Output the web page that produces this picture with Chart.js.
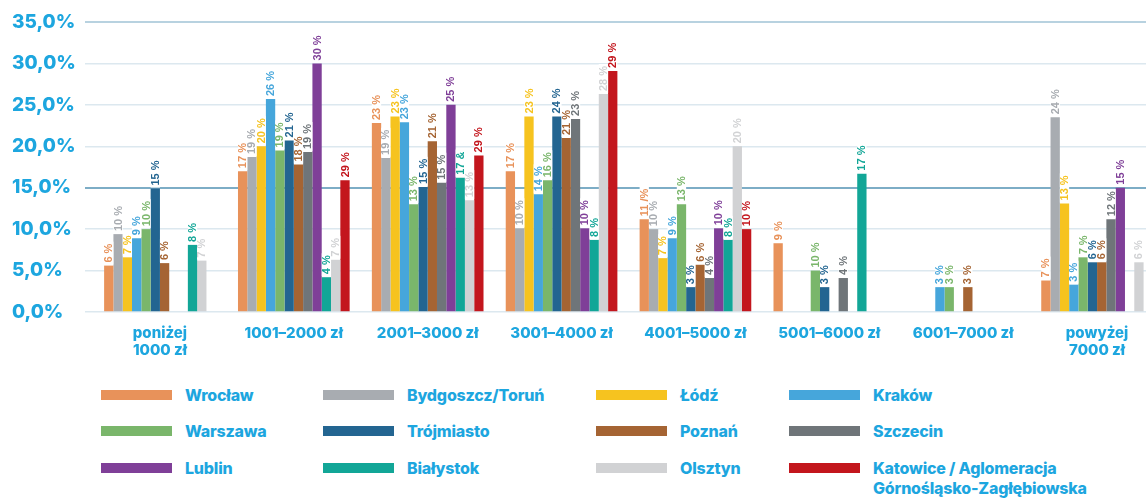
<!DOCTYPE html>
<html lang="pl">
<head>
<meta charset="utf-8">
<title>Wynagrodzenia wg miast</title>
<script src="https://cdn.jsdelivr.net/npm/chart.js@4/dist/chart.umd.min.js"></script>
<style>
  html, body { margin: 0; padding: 0; background: #fff; overflow: hidden; }
  #wrap { position: relative; width: 1146px; height: 498px; overflow: hidden; }
  #chart { position: absolute; left: 0; top: 0; }
  .lg { position: absolute; display: flex; align-items: flex-start; }
  .lg .sw { width: 71px; height: 10px; margin-top: 0; }
  .lg .tx {
    margin-left: 13px; margin-top: -5px;
    font: 800 16px Inter, "Liberation Sans", sans-serif;
    color: #1DA6DF; line-height: 20px; white-space: pre-line; letter-spacing: -0.2px;
  }
</style>
</head>
<body>
<div id="wrap">
  <canvas id="chart" width="1164" height="372"></canvas>
  <div id="legend"></div>
</div>
<script>
// --- Data ---
const categories = [['poniżej', '1000 zł'], '1001–2000 zł', '2001–3000 zł', '3001–4000 zł',
  '4001–5000 zł', '5001–6000 zł', '6001–7000 zł', ['powyżej', '7000 zł']];

const cities = ['Wrocław', 'Bydgoszcz/Toruń', 'Łódź', 'Kraków', 'Warszawa', 'Trójmiasto',
  'Poznań', 'Szczecin', 'Lublin', 'Białystok', 'Olsztyn',
  'Katowice / Aglomeracja\nGórnośląsko-Zagłębiowska'];

const colors = ['#E8925A', '#A8ACB1', '#F6C31F', '#46A6DB', '#7AB66B', '#236591',
  '#A56433', '#6F7579', '#7F3F98', '#12A697', '#D1D2D4', '#C3161D'];

// bar heights (%)
const wroclaw    = [5.6, 17.0, 22.8, 17.0, 11.2, 8.3, null, 3.8];
const bydgoszcz  = [9.4, 18.7, 18.6, 10.1, 10.0, null, null, 23.5];
const lodz       = [6.6, 20.0, 23.6, 23.6, 6.5, null, null, 13.1];
const krakow     = [8.9, 25.7, 22.9, 14.2, 8.9, null, 3.0, 3.3];
const warszawa   = [10.0, 19.5, 13.0, 15.9, 13.0, 5.0, 3.0, 6.6];
const trojmiasto = [14.9, 20.7, 15.1, 23.6, 3.0, 3.0, null, 6.0];
const poznan     = [5.9, 17.8, 20.6, 21.0, 5.7, null, 3.0, 6.0];
const szczecin   = [null, 19.3, 15.6, 23.3, 4.1, 4.1, null, 11.2];
const lublin     = [null, 30.0, 25.0, 10.1, 10.1, null, null, 15.0];
const bialystok  = [8.1, 4.2, 16.2, 8.7, 8.7, 16.7, null, null];
const olsztyn    = [6.2, 6.3, 13.5, 26.3, 20.0, null, null, 6.0];
const katowice   = [null, 15.9, 18.9, 29.1, 10.0, null, null, null];

// the printed labels above the bars (as they appear, typos included)
const wroclawLbl    = ['6 %', '17 %', '23 %', '17 %', '11 /%', '9 %', null, '7 %'];
const bydgoszczLbl  = ['10 %', '19 %', '19 %', '10 %', '10 %', null, null, '24 %'];
const lodzLbl       = ['7 %', '20 %', '23 %', '23 %', '7 %', null, null, '13 %'];
const krakowLbl     = ['9 %', '26 %', '23 %', '14 %', '9 %', null, '3 %', '3 %'];
const warszawaLbl   = ['10 %', '19 %', '13 %', '16 %', '13 %', '10 %', '3 %', '7 %'];
const trojmiastoLbl = ['15 %', '21 %', '15 %', '24 %', '3 %', '3 %', null, '6 %'];
const poznanLbl     = ['6 %', '18 %', '21 %', '21 %', '6 %', null, '3 %', '6 %'];
const szczecinLbl   = [null, '19 %', '15 %', '23 %', '4 %', '4 %', null, '12 %'];
const lublinLbl     = [null, '30 %', '25 %', '10 %', '10 %', null, null, '15 %'];
const bialystokLbl  = ['8 %', '4 %', '17 &', '8 %', '8 %', '17 %', null, null];
const olsztynLbl    = ['7 %', '7 %', '13 %', '28 %', '20 %', null, null, '6 %'];
const katowiceLbl   = [null, '29 %', '29 %', '29 %', '10 %', null, null, null];

const series = [wroclaw, bydgoszcz, lodz, krakow, warszawa, trojmiasto,
  poznan, szczecin, lublin, bialystok, olsztyn, katowice];
const seriesLabels = [wroclawLbl, bydgoszczLbl, lodzLbl, krakowLbl, warszawaLbl, trojmiastoLbl,
  poznanLbl, szczecinLbl, lublinLbl, bialystokLbl, olsztynLbl, katowiceLbl];

const yTicks = [0, 5, 10, 15, 20, 25, 30, 35];

const blue = '#1DA6DF';

// rotated value labels above each bar, on a white box
const barLabels = {
  id: 'barLabels',
  afterDatasetsDraw(chart) {
    const c = chart.ctx;
    c.save();
    c.font = 'bold 11px "Liberation Sans Narrow", "Liberation Sans", sans-serif';
    chart.data.datasets.forEach((ds, i) => {
      chart.getDatasetMeta(i).data.forEach((bar, j) => {
        const txt = ds.valueLabels[j];
        if (txt == null || ds.data[j] == null) return;
        const w = c.measureText(txt).width;
        c.save();
        c.translate(bar.x, bar.y - 1);
        c.rotate(-Math.PI / 2);
        c.fillStyle = '#fff';
        c.fillRect(0, -bar.width / 2, w + 4, bar.width);
        c.fillStyle = ds.backgroundColor;
        c.textBaseline = 'middle';
        c.fillText(txt, 2, 0.5);
        c.restore();
      });
    });
    c.restore();
  }
};

const datasets = series.map((d, i) => ({
  label: cities[i],
  data: d,
  valueLabels: seriesLabels[i],
  backgroundColor: colors[i],
  borderWidth: 0
}));

const chart = new Chart(document.getElementById('chart'), {
  type: 'bar',
  data: { labels: categories, datasets: datasets },
  options: {
    responsive: false,
    animation: false,
    layout: { padding: { left: 12, top: 22, right: 0, bottom: 0 } },
    datasets: { bar: { categoryPercentage: 0.834, barPercentage: 1 } },
    plugins: { legend: { display: false }, tooltip: { enabled: false } },
    scales: {
      x: {
        grid: { display: false },
        border: { display: false },
        ticks: {
          color: blue, maxRotation: 0, autoSkip: false, padding: 5,
          font: { family: 'Inter', weight: '800', size: 15, lineHeight: 1.15 }
        },
        afterFit: s => { s.height = 60; }
      },
      y: {
        min: 0, max: 35,
        afterBuildTicks: s => { s.ticks = yTicks.map(v => ({ value: v })); },
        ticks: {
          color: blue, crossAlign: 'far', padding: 0,
          font: { family: 'Inter', weight: '800', size: 19 },
          callback: v => v.toFixed(1).replace('.', ',') + '%'
        },
        grid: {
          tickLength: 8,
          color: ctx => ctx.tick.value === 15 ? '#7DADC6' : (ctx.tick.value === 35 ? '#B8D2E0' : '#DCE8EF'),
          lineWidth: ctx => (ctx.tick.value === 15 || ctx.tick.value === 35) ? 2 : 1.5
        },
        border: { display: false },
        afterFit: s => { s.width = 81; }
      }
    }
  },
  plugins: [barLabels]
});

// --- Legend (4 columns x 3 rows) ---
const legendCols = [101, 323, 596, 789];
const legendRows = [390, 426, 463];
const legend = document.getElementById('legend');
chart.data.datasets.forEach((ds, i) => {
  const item = document.createElement('div');
  item.className = 'lg';
  item.style.left = legendCols[i % 4] + 'px';
  item.style.top = legendRows[Math.floor(i / 4)] + 'px';
  item.innerHTML = '<div class="sw" style="background:' + ds.backgroundColor + '"></div>' +
    '<div class="tx"></div>';
  item.querySelector('.tx').textContent = ds.label;
  legend.appendChild(item);
});
</script>
</body>
</html>
